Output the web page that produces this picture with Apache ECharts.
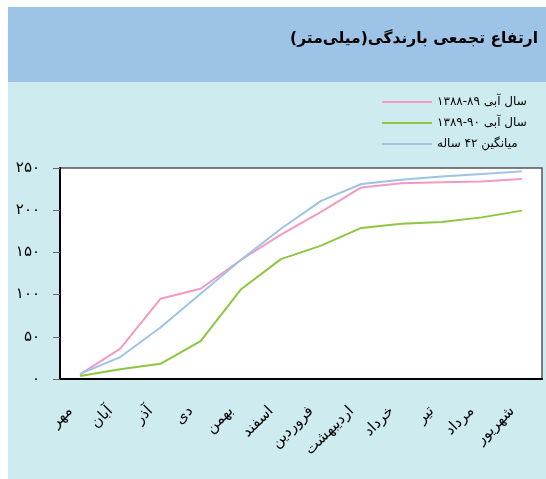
<!DOCTYPE html>
<html>
<head>
<meta charset="utf-8">
<script src="https://cdn.jsdelivr.net/npm/echarts@6/dist/echarts.min.js"></script>
</head>
<body style="margin:0">
<div id="container" style="width:546px;height:479px;"></div>
<script type="text/javascript">
// ماه‌های سال آبی
var months = ['مهر', 'آبان', 'آذر', 'دی', 'بهمن', 'اسفند', 'فروردین', 'اردیبهشت', 'خرداد', 'تیر', 'مرداد', 'شهریور'];
var seriesNames = ['سال آبی ۸۹-۱۳۸۸', 'سال آبی ۹۰-۱۳۸۹', 'میانگین ۴۲ ساله'];
var year8889 = [5.5, 36, 95, 107, 141, 171, 198, 227, 232, 233, 234, 237];
var year8990 = [3.5, 11.5, 18, 45, 106, 142, 158, 179, 184, 186, 191.5, 199.5];
var avg42 = [6, 26, 61, 101, 141, 178, 211, 231, 236, 240, 243, 246];
var yTickLabels = ['۰', '۵۰', '۱۰۰', '۱۵۰', '۲۰۰', '۲۵۰'];

var fa = 'DejaVu Sans';
var myChart = echarts.init(document.getElementById('container'));

var option = {
    animation: false,
    graphic: [
        { type: 'rect', z: -10, shape: { x: 8, y: 7, width: 538, height: 75 }, style: { fill: '#9dc3e6' } },
        { type: 'rect', z: -10, shape: { x: 8, y: 82, width: 538, height: 397 }, style: { fill: '#ceebef' } }
    ],
    title: {
        text: 'ارتفاع تجمعی بارندگی(میلی\u200Cمتر)\u200F',
        right: 3,
        top: 26,
        textStyle: { fontFamily: fa, fontWeight: 'bold', fontSize: 15.5, color: '#000' }
    },
    legend: {
        orient: 'vertical',
        left: 377,
        top: 90,
        icon: 'rect',
        itemWidth: 50,
        itemHeight: 2,
        itemGap: 7,
        textStyle: { fontFamily: fa, fontSize: 12, lineHeight: 14, color: '#000' },
        data: seriesNames
    },
    grid: {
        left: 60, right: 4, top: 168, bottom: 100,
        show: true,
        backgroundColor: '#fff',
        borderColor: '#555',
        borderWidth: 1.5
    },
    xAxis: {
        type: 'category',
        data: months,
        boundaryGap: true,
        axisLine: { lineStyle: { color: '#000', width: 2 } },
        axisTick: { length: 6, lineStyle: { color: '#333' } },
        axisLabel: {
            rotate: 45,
            margin: 20,
            interval: 0,
            color: '#000',
            // فاصله خالی انتهای برچسب تا برچسب زیر خط تیک بیفتد
            formatter: function (v) { return '{t|' + v + '}{g|}'; },
            rich: {
                t: { fontFamily: fa, fontSize: 15, color: '#000' },
                g: { width: 14 }
            }
        }
    },
    yAxis: {
        type: 'value',
        min: 0,
        max: 250,
        interval: 50,
        splitLine: { show: false },
        axisLine: { show: true, lineStyle: { color: '#000', width: 2 } },
        axisTick: { show: true, length: 7, lineStyle: { color: '#666' } },
        axisLabel: {
            margin: 20,
            fontFamily: fa,
            fontSize: 15,
            color: '#000',
            formatter: function (v) { return yTickLabels[Math.round(v / 50)]; }
        }
    },
    series: [
        { name: seriesNames[0], type: 'line', data: year8889, showSymbol: false, lineStyle: { color: '#f39ac3', width: 2 }, itemStyle: { color: '#f39ac3' } },
        { name: seriesNames[1], type: 'line', data: year8990, showSymbol: false, lineStyle: { color: '#8dc63f', width: 2 }, itemStyle: { color: '#8dc63f' } },
        { name: seriesNames[2], type: 'line', data: avg42, showSymbol: false, lineStyle: { color: '#9dc3e6', width: 2 }, itemStyle: { color: '#9dc3e6' } }
    ]
};
myChart.setOption(option);
</script>
</body>
</html>
